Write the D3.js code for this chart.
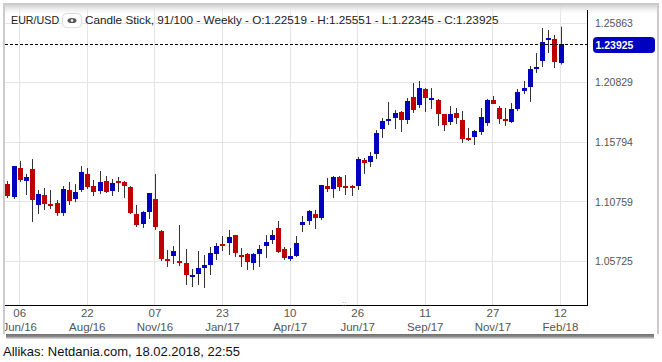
<!DOCTYPE html>
<html><head><meta charset="utf-8">
<script src="https://cdn.jsdelivr.net/npm/d3@7"></script>
<style>html,body{margin:0;padding:0;background:#fff}svg{display:block}text{font-family:"Liberation Sans",Arial,sans-serif}</style>
</head><body><svg id="c" width="662" height="362"></svg>
<script>
const opens=[1.1224,1.1114,1.1359,1.1249,1.1351,1.1046,1.1131,1.1055,1.1063,1.0978,1.1173,1.1097,1.1173,1.1309,1.1207,1.1165,1.1249,1.1165,1.1249,1.1241,1.1199,1.0970,1.0886,1.0987,1.1097,1.0826,1.0589,1.0615,1.0572,1.0556,1.0437,1.0462,1.0513,1.0539,1.0632,1.0716,1.0725,1.0792,1.0623,1.0632,1.0556,1.0632,1.0699,1.0750,1.0852,1.0674,1.0589,1.0615,1.0877,1.0911,1.0970,1.0936,1.1207,1.1182,1.1283,1.1207,1.1207,1.1207,1.1427,1.1410,1.1478,1.1689,1.1757,1.1782,1.1833,1.1765,1.1960,1.1892,1.2028,1.1935,1.1935,1.1816,1.1749,1.1825,1.1765,1.1613,1.1622,1.1664,1.1740,1.1935,1.1867,1.1774,1.1749,1.1859,1.2011,1.2045,1.2197,1.2265,1.2442,1.2451,1.22519];
const highs=[1.1249,1.1376,1.1419,1.1309,1.1435,1.1173,1.1190,1.1173,1.1088,1.1207,1.1241,1.1224,1.1376,1.1359,1.1258,1.1334,1.1292,1.1266,1.1283,1.1249,1.1207,1.1046,1.0995,1.1148,1.1309,1.0835,1.0666,1.0699,1.0877,1.0674,1.0505,1.0657,1.0623,1.0691,1.0725,1.0784,1.0835,1.0792,1.0682,1.0640,1.0640,1.0708,1.0792,1.0835,1.0911,1.0691,1.0682,1.0784,1.0953,1.1004,1.1004,1.1216,1.1275,1.1292,1.1292,1.1300,1.1216,1.1452,1.1444,1.1495,1.1681,1.1782,1.1918,1.1850,1.1842,1.1952,1.2079,1.2096,1.2036,1.2036,1.1943,1.1816,1.1884,1.1867,1.1842,1.1698,1.1681,1.1867,1.1943,1.1969,1.1884,1.1867,1.1909,1.2028,1.2096,1.2222,1.2332,1.2544,1.2527,1.2485,1.25551];
const lows=[1.1105,1.1097,1.1241,1.1131,1.0902,1.0970,1.1004,1.1012,1.0953,1.0953,1.1046,1.1071,1.1156,1.1182,1.1122,1.1139,1.1148,1.1122,1.1156,1.1105,1.0970,1.0860,1.0852,1.0928,1.0835,1.0572,1.0522,1.0547,1.0530,1.0369,1.0352,1.0369,1.0344,1.0454,1.0581,1.0657,1.0623,1.0606,1.0522,1.0496,1.0496,1.0522,1.0598,1.0716,1.0640,1.0581,1.0572,1.0606,1.0818,1.0877,1.0843,1.0919,1.1156,1.1105,1.1165,1.1131,1.1122,1.1173,1.1309,1.1368,1.1435,1.1613,1.1723,1.1689,1.1664,1.1732,1.1825,1.1867,1.1833,1.1859,1.1715,1.1672,1.1723,1.1732,1.1571,1.1588,1.1554,1.1639,1.1715,1.1901,1.1732,1.1715,1.1740,1.1842,1.1985,1.1918,1.2163,1.2214,1.2332,1.2206,1.22345];
const closes=[1.1122,1.1376,1.1258,1.1283,1.1088,1.1139,1.1055,1.1038,1.0978,1.1182,1.1080,1.1156,1.1325,1.1199,1.1156,1.1241,1.1156,1.1232,1.1232,1.1207,1.0978,1.0877,1.0987,1.1148,1.0860,1.0589,1.0572,1.0657,1.0556,1.0454,1.0454,1.0513,1.0539,1.0640,1.0699,1.0699,1.0776,1.0640,1.0606,1.0564,1.0632,1.0674,1.0733,1.0792,1.0649,1.0598,1.0615,1.0725,1.0902,1.0995,1.0936,1.1216,1.1182,1.1283,1.1199,1.1190,1.1190,1.1435,1.1402,1.1461,1.1655,1.1757,1.1774,1.1825,1.1765,1.1926,1.1850,1.2036,1.1952,1.1952,1.1816,1.1723,1.1816,1.1782,1.1605,1.1596,1.1672,1.1791,1.1935,1.1901,1.1774,1.1757,1.1859,1.2002,1.2036,1.2197,1.2214,1.2426,1.2459,1.2256,1.2407];
const priceTicks=[1.25863,1.20829,1.15794,1.10759,1.05725];
const tickIndex=[2,13,24,35,46,57,68,79,90];
const tickDays=["06","22","07","23","10","26","11","27","12"];
const tickMonths=["Jun/16","Aug/16","Nov/16","Jan/17","Apr/17","Jun/17","Sep/17","Nov/17","Feb/18"];
const title="EUR/USD", subtitle="Candle Stick, 91/100 - Weekly - O:1.22519 - H:1.25551 - L:1.22345 - C:1.23925";
const lastLabel="1.23925", source="Allikas: Netdania.com, 18.02.2018, 22:55";

const svg=d3.select("#c");
const defs=svg.append("defs");
const g=defs.append("linearGradient").attr("id","hd").attr("x1",0).attr("x2",0).attr("y1",0).attr("y2",1);
g.append("stop").attr("offset",0).attr("stop-color","#d2d0d0");
g.append("stop").attr("offset",1).attr("stop-color","#fff").attr("stop-opacity",0);
const sh=defs.append("linearGradient").attr("id","sh").attr("x1",0).attr("x2",0).attr("y1",0).attr("y2",1);
sh.append("stop").attr("offset",0).attr("stop-color","#6e6e6e");
sh.append("stop").attr("offset",.5).attr("stop-color","#8a8a8a");
sh.append("stop").attr("offset",1).attr("stop-color","#e4e4e4");
defs.append("clipPath").attr("id","cp").append("rect").attr("x",5).attr("y",5).attr("width",652).attr("height",329);

const x=d3.scaleLinear().domain([0,90]).range([7.4,560.5]);
const y=d3.scaleLinear().domain([1.05725,1.25863]).range([261,23]);
const px=v=>Math.round(v)+0.5;
const n=closes.length;

// frame
svg.append("rect").attr("x",3).attr("y",3).attr("width",656).attr("height",331).attr("fill","#cfcbcb");
svg.append("rect").attr("x",6).attr("y",334).attr("width",648).attr("height",5).attr("fill","url(#sh)");
svg.append("rect").attr("x",5).attr("y",5).attr("width",652).attr("height",329).attr("fill","#fff");

const plot=svg.append("g").attr("clip-path","url(#cp)");
plot.selectAll(".h").data(priceTicks).join("line").attr("x1",5).attr("x2",587)
  .attr("y1",d=>Math.floor(y(d))+.5).attr("y2",d=>Math.floor(y(d))+.5).attr("stroke","#e4e4e4");
plot.selectAll(".v").data(tickIndex).join("line").attr("x1",d=>Math.floor(x(d))+.5).attr("x2",d=>Math.floor(x(d))+.5)
  .attr("y1",5).attr("y2",305).attr("stroke","#e4e4e4");
plot.append("rect").attr("x",5).attr("y",5).attr("width",652).attr("height",11).attr("fill","url(#hd)");

// candles
const idx=d3.range(n);
plot.selectAll(".w").data(idx).join("line").attr("x1",i=>px(x(i))).attr("x2",i=>px(x(i)))
  .attr("y1",i=>y(highs[i])).attr("y2",i=>y(lows[i])).attr("stroke","#333");
plot.selectAll(".b").data(idx).join("rect")
  .attr("x",i=>px(x(i))-2.5).attr("width",5)
  .attr("y",i=>Math.round(y(Math.max(opens[i],closes[i]))))
  .attr("height",i=>Math.max(2,Math.round(y(Math.min(opens[i],closes[i])))-Math.round(y(Math.max(opens[i],closes[i])))))
  .attr("fill",i=>closes[i]>=opens[i]?"#0000c0":"#c00000");

// current line
const ly=Math.round(y(closes[n-1]))+.5;
plot.append("line").attr("x1",5).attr("x2",588).attr("y1",ly).attr("y2",ly).attr("stroke","#000").attr("stroke-dasharray","3,2");

// axes lines
svg.append("line").attr("x1",5).attr("x2",588).attr("y1",305.5).attr("y2",305.5).attr("stroke","#000");
svg.append("line").attr("x1",587.5).attr("x2",587.5).attr("y1",10).attr("y2",306).attr("stroke","#000");

// x labels
const xl=plot.append("g").attr("text-anchor","middle").attr("font-size",11.5).attr("fill","#555");
xl.selectAll(".d").data(tickIndex).join("text").attr("x",d=>x(d)).attr("y",317).text((d,i)=>tickDays[i]);
xl.selectAll(".m").data(tickIndex).join("text").attr("x",d=>x(d)).attr("y",331).text((d,i)=>tickMonths[i]);

// y labels
svg.append("g").selectAll("text").data(priceTicks).join("text").attr("x",595).attr("y",d=>y(d)+4)
  .attr("font-size",10.5).attr("fill","#555").text(d=>d.toFixed(5));
svg.append("rect").attr("x",593).attr("y",37).attr("width",62).attr("height",16).attr("rx",4).attr("fill","#0000c0");
svg.append("text").attr("x",595.5).attr("y",49).attr("font-size",10.5).attr("font-weight","bold").attr("fill","#fff").text(lastLabel);

// dots
svg.append("text").attr("x",342).attr("y",306).attr("font-size",8).attr("fill","#888").text("::");

// header
svg.append("text").attr("x",11).attr("y",24).attr("font-size",10.7).attr("fill","#222").text(title);
svg.append("rect").attr("x",62.5).attr("y",13.5).attr("width",19).attr("height",14).attr("rx",4).attr("fill","#fff").attr("stroke","#ddd");
svg.append("ellipse").attr("cx",72).attr("cy",20.5).attr("rx",4.5).attr("ry",2.6).attr("fill","#555");
svg.append("circle").attr("cx",72).attr("cy",20.5).attr("r",1.3).attr("fill","#fff");
svg.append("text").attr("x",85).attr("y",24).attr("font-size",11.73).attr("fill","#222").text(subtitle);

// footer
svg.append("text").attr("x",3).attr("y",355.5).attr("font-size",13).attr("fill","#111").text(source);
</script></body></html>
